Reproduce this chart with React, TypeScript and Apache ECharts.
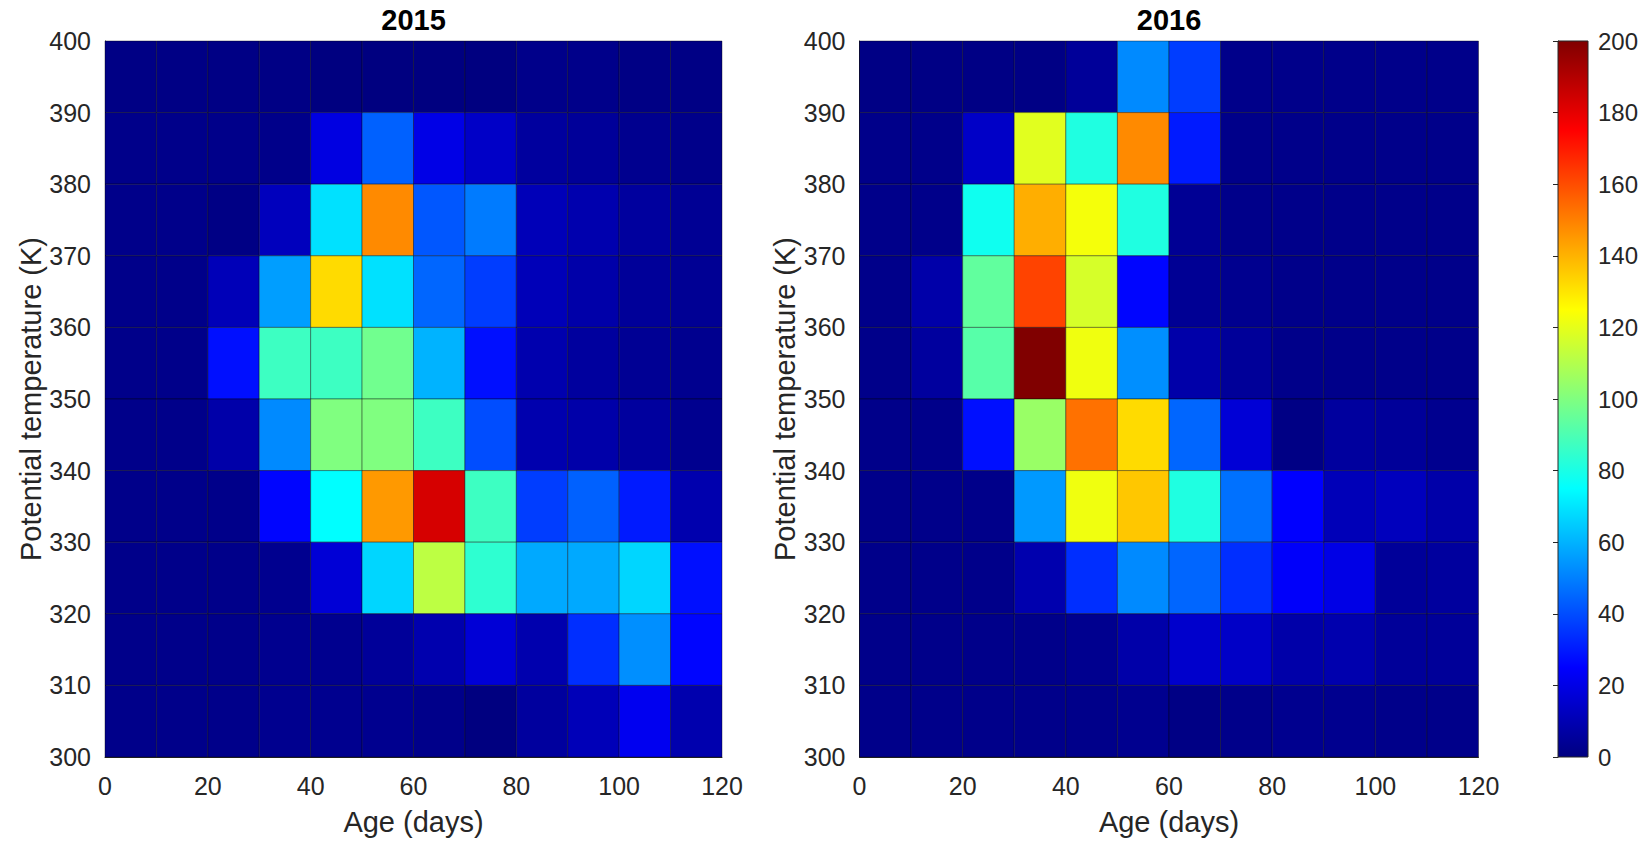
import React, { useEffect, useRef } from "react";
import * as echarts from "echarts";

// Bin lower edges
const ages = [0, 10, 20, 30, 40, 50, 60, 70, 80, 90, 100, 110];
const thetas = [390, 380, 370, 360, 350, 340, 330, 320, 310, 300]; // rows top -> bottom
const ageBin = 10;
const thetaBin = 10;

const years = ["2015", "2016"];

// counts per row (theta 390-400 first), columns = ages
const counts2015 = [
  [1, 1, 1, 1, 0, 0, 0, 0, 2, 2, 1, 1],
  [2, 2, 2, 2, 19, 44, 20, 14, 6, 5, 3, 2],
  [2, 2, 1, 12, 69, 148, 42, 49, 11, 9, 6, 4],
  [2, 2, 11, 56, 132, 69, 45, 37, 11, 8, 5, 4],
  [2, 2, 28, 87, 87, 97, 60, 28, 9, 6, 4, 3],
  [2, 2, 8, 52, 100, 100, 87, 40, 9, 8, 6, 3],
  [2, 2, 2, 26, 75, 145, 183, 87, 37, 44, 30, 9],
  [2, 2, 2, 3, 17, 67, 112, 84, 58, 58, 67, 28],
  [2, 2, 2, 3, 3, 5, 9, 17, 9, 34, 53, 26],
  [2, 2, 2, 3, 3, 3, 2, 0, 6, 11, 22, 9],
];

const counts2016 = [
  [1, 1, 1, 1, 5, 52, 37, 2, 2, 2, 2, 2],
  [2, 2, 14, 119, 81, 148, 30, 2, 2, 2, 2, 2],
  [2, 2, 78, 141, 123, 81, 4, 2, 2, 2, 2, 2],
  [2, 8, 94, 162, 117, 26, 4, 3, 2, 2, 2, 2],
  [2, 6, 92, 200, 122, 53, 8, 5, 2, 2, 2, 2],
  [2, 2, 28, 105, 153, 132, 45, 17, 1, 6, 5, 3],
  [2, 2, 2, 55, 122, 136, 81, 47, 25, 11, 12, 8],
  [2, 2, 2, 9, 34, 52, 45, 34, 24, 20, 5, 6],
  [2, 2, 2, 2, 3, 8, 15, 14, 8, 9, 5, 5],
  [2, 2, 2, 2, 2, 3, 1, 2, 3, 3, 2, 2],
];

const colorMin = 0;
const colorMax = 200;
const jet = [
  "#000080",
  "#0000ff",
  "#0080ff",
  "#00ffff",
  "#80ff80",
  "#ffff00",
  "#ff8000",
  "#ff0000",
  "#800000",
];

const FONT = "'Liberation Sans', Arial, Helvetica, sans-serif";
const TXT = "#262626";

function toData(counts: number[][]) {
  const out: number[][] = [];
  counts.forEach((row, i) => {
    row.forEach((v, j) => {
      out.push([ages[j], thetas[i], v]);
    });
  });
  return out;
}

const cellRender = (params: any, api: any) => {
  const x = api.value(0);
  const y = api.value(1);
  const a = api.coord([x, y + thetaBin]);
  const b = api.coord([x + ageBin, y]);
  return {
    type: "rect",
    shape: { x: a[0], y: a[1], width: b[0] - a[0], height: b[1] - a[1] },
    style: {
      fill: api.visual("color"),
      stroke: "rgba(0,0,0,0.38)",
      lineWidth: 1,
    },
  };
};

const colorbarRender = (params: any, api: any) => {
  const a = api.coord([0, colorMax]);
  const b = api.coord([1, colorMin]);
  const stops = jet.map((c, i) => ({ offset: i / (jet.length - 1), color: c }));
  return {
    type: "rect",
    shape: { x: a[0], y: a[1], width: b[0] - a[0], height: b[1] - a[1] },
    style: {
      fill: new echarts.graphic.LinearGradient(0, 1, 0, 0, stops),
      stroke: TXT,
      lineWidth: 1,
    },
  };
};

const grids = [
  { left: 105, top: 41, width: 617, height: 716 },
  { left: 859.5, top: 41, width: 619, height: 716 },
  { left: 1558, top: 41, width: 30, height: 716 },
];

function heatX(idx: number) {
  return {
    gridIndex: idx,
    type: "value",
    min: 0,
    max: 120,
    interval: 20,
    name: "Age (days)",
    nameLocation: "middle",
    nameGap: 50,
    nameTextStyle: { fontSize: 29, color: TXT, fontFamily: FONT },
    axisLabel: { fontSize: 25, color: TXT, margin: 16, fontFamily: FONT },
    axisLine: { show: true, lineStyle: { color: TXT, width: 1 } },
    axisTick: { show: false },
    splitLine: { show: false },
  };
}

function heatY(idx: number) {
  return {
    gridIndex: idx,
    type: "value",
    min: 300,
    max: 400,
    interval: 10,
    name: "Potential temperature (K)",
    nameLocation: "middle",
    nameGap: 60,
    nameRotate: 90,
    nameTextStyle: { fontSize: 29, color: TXT, fontFamily: FONT },
    axisLabel: { fontSize: 25, color: TXT, margin: 14, fontFamily: FONT },
    axisLine: { show: true, lineStyle: { color: TXT, width: 1 } },
    axisTick: { show: false },
    splitLine: { show: false },
  };
}

export default function App() {
  const ref = useRef<HTMLDivElement>(null);
  useEffect(() => {
    const chart = echarts.init(ref.current!, null, { renderer: "svg" });
    const option: any = {
      animation: false,
      backgroundColor: "#ffffff",
      textStyle: { fontFamily: FONT },
      grid: grids,
      xAxis: [
        heatX(0),
        heatX(1),
        { gridIndex: 2, type: "value", min: 0, max: 1, show: false },
      ],
      yAxis: [
        heatY(0),
        heatY(1),
        {
          gridIndex: 2,
          type: "value",
          position: "right",
          min: colorMin,
          max: colorMax,
          interval: 20,
          axisLabel: { fontSize: 24, color: TXT, margin: 10, fontFamily: FONT },
          axisLine: { show: true, lineStyle: { color: TXT, width: 1 } },
          axisTick: { show: true, inside: true, length: 5, lineStyle: { color: TXT } },
          splitLine: { show: false },
        },
      ],
      visualMap: {
        type: "continuous",
        show: false,
        min: colorMin,
        max: colorMax,
        dimension: 2,
        seriesIndex: [0, 1],
        inRange: { color: jet },
      },
      graphic: years.map((y, i) => ({
        type: "text",
        x: grids[i].left + grids[i].width / 2,
        y: 20,
        style: {
          text: y,
          font: `bold 29px ${FONT}`,
          fill: "#000",
          textAlign: "center",
          textVerticalAlign: "middle",
        },
      })),
      series: [
        {
          type: "custom",
          name: years[0],
          xAxisIndex: 0,
          yAxisIndex: 0,
          renderItem: cellRender,
          data: toData(counts2015),
        },
        {
          type: "custom",
          name: years[1],
          xAxisIndex: 1,
          yAxisIndex: 1,
          renderItem: cellRender,
          data: toData(counts2016),
        },
        {
          type: "custom",
          name: "colorbar",
          xAxisIndex: 2,
          yAxisIndex: 2,
          renderItem: colorbarRender,
          data: [[0, colorMin]],
          z: 1,
        },
      ],
    };
    chart.setOption(option);
    return () => chart.dispose();
  }, []);
  return (
    <div
      ref={ref}
      style={{
        position: "fixed",
        left: 0,
        top: 0,
        width: 1645,
        height: 842,
        background: "#fff",
      }}
    />
  );
}
